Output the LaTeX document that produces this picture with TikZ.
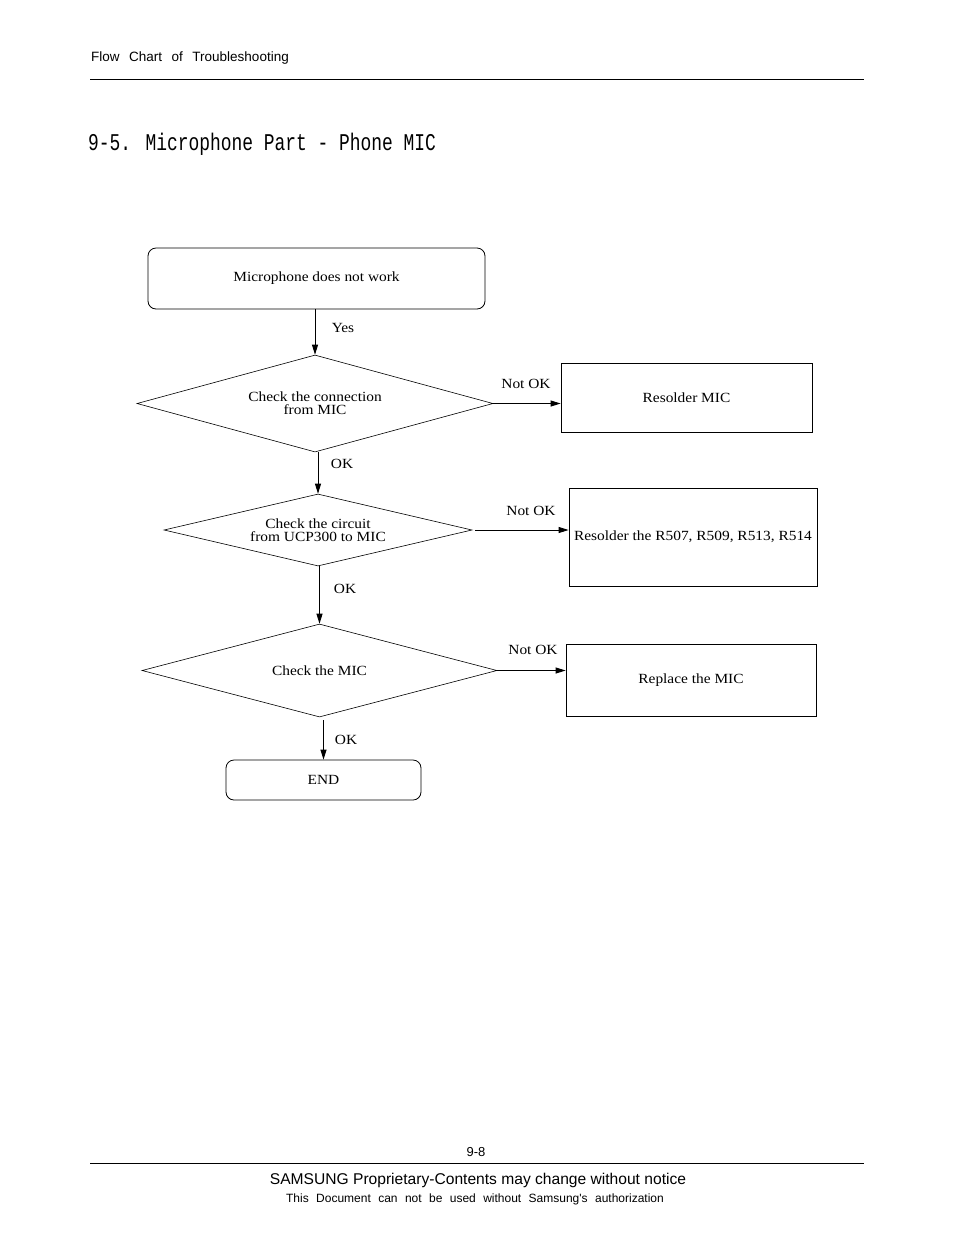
\documentclass[tikz,border=0pt]{standalone}
\usepackage{fontspec}
\setmainfont[FakeStretch=1.1]{Liberation Serif}
\newfontfamily\ftrfont{Liberation Sans}
\newfontfamily\ttlfont{Liberation Mono}
\usetikzlibrary{shapes.geometric,arrows.meta,calc}
\newcommand{\bodysz}{\fontsize{14}{13}\selectfont}
\newcommand{\hdrsz}{\ftrfont\fontsize{13.5}{15}\selectfont\spaceskip=9.5pt plus 1pt\relax}
\newcommand{\notesz}{\ftrfont\fontsize{12}{14}\selectfont\spaceskip=7.4pt plus 1pt\relax}
\begin{document}
\begin{tikzpicture}[x=1pt,y=-1pt,
  box/.style={draw, line width=0.8pt, inner sep=0pt, align=center, font=\bodysz},
  rbox/.style={box, rounded corners=8pt},
  dia/.style={diamond, draw, line width=0.6pt, inner sep=0pt, align=center, font=\bodysz},
  arr/.style={-{Triangle[length=10pt,width=6pt]}, line width=0.9pt},
  lbl/.style={inner sep=0pt, font=\bodysz}]
\useasboundingbox[fill=white] (0,0) rectangle (954,1235);

% header
\node[anchor=west, inner sep=0pt, font=\hdrsz] (hdr) at (91,58.5) {Flow Chart of Troubleshooting};
\coordinate (hl1) at (90,79);
\coordinate (hl2) at (864,79);
\draw[line width=0.9pt] (hl1) -- (hl2);

% title
\node[anchor=west, inner sep=0pt] (title) at (88,144) {\scalebox{0.747}[1]{\ttlfont\fontsize{24}{26}\selectfont 9-5. Microphone Part - Phone MIC}};

% nodes
\node[rbox, minimum width=337pt, minimum height=61pt] (start) at (316.5,278.5) {Microphone does not work};
\node[dia, shape aspect=3.67, minimum width=356pt, minimum height=97pt] (d1) at (315,403.5) {Check the connection\\from MIC};
\node[box, minimum width=251pt, minimum height=69pt] (b1) at (686.5,397.5) {Resolder MIC};
\node[dia, shape aspect=4.28, minimum width=308pt, minimum height=72pt] (d2) at (318,530) {Check the circuit\\from UCP300 to MIC};
\node[box, minimum width=248pt, minimum height=98pt] (b2) at (693,537) {Resolder the R507, R509, R513, R514};
\node[dia, shape aspect=3.82, minimum width=355pt, minimum height=93pt] (d3) at (319.5,670.5) {Check the MIC};
\node[box, minimum width=250pt, minimum height=72pt] (b3) at (691,680) {Replace the MIC};
\node[rbox, minimum width=195pt, minimum height=40pt] (endn) at (323.5,780) {END};

% connectors
\draw[arr] (d1.north |- start.south) -- (d1.north);
\draw[arr] (d1.east) -- (b1.west |- d1.east);
\draw[arr] (d2.north |- d1.south) -- (d2.north);
\draw[arr] ([xshift=3pt]d2.east) -- (b2.west |- d2.east);
\draw[arr] (d3.north |- d2.south) -- (d3.north);
\draw[arr] (d3.east) -- (b3.west |- d3.east);
\draw[arr] ([yshift=-3pt]endn.north |- d3.south) -- (endn.north);

% labels
\node[lbl] (lyes) at (343,328) {Yes};
\node[lbl] (ln1) at (526,384) {Not OK};
\node[lbl] (lo1) at (342,464) {OK};
\node[lbl] (ln2) at (531,511) {Not OK};
\node[lbl] (lo2) at (345,589) {OK};
\node[lbl] (ln3) at (533,650) {Not OK};
\node[lbl] (lo3) at (346,740) {OK};

% footer
\node[inner sep=0pt, font=\ftrfont\fontsize{13}{15}\selectfont] (pg) at (476,1152) {9-8};
\coordinate (fl1) at (90,1163);
\coordinate (fl2) at (864,1163);
\draw[line width=0.9pt] (fl1) -- (fl2);
\node[inner sep=0pt, font=\ftrfont\fontsize{15.6}{17}\selectfont] (f1) at (478,1180) {SAMSUNG Proprietary-Contents may change without notice};
\node[inner sep=0pt, font=\notesz] (f2) at (475,1199) {This Document can not be used without Samsung's authorization};
\end{tikzpicture}
\end{document}
